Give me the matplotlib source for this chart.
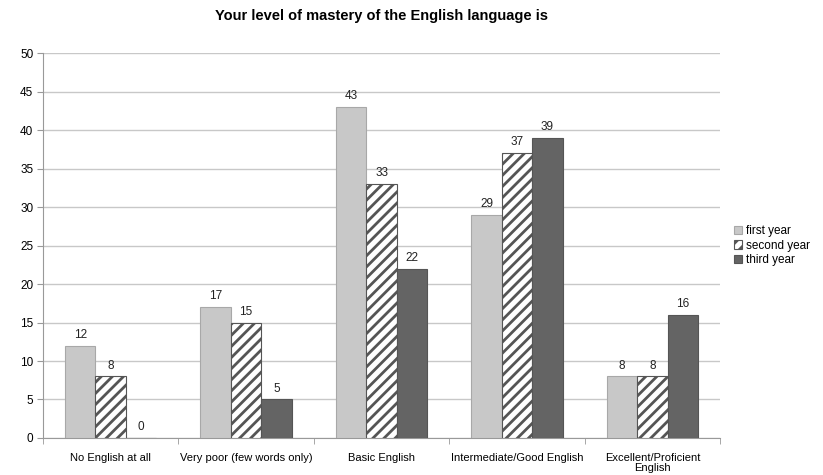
import matplotlib
matplotlib.use("Agg")
import matplotlib.pyplot as plt
import numpy as np

plt.rcParams['font.family'] = ['Liberation Sans', 'DejaVu Sans']
plt.rcParams['hatch.linewidth'] = 2.0
plt.rcParams['hatch.color'] = '#555555'

categories = ["No English at all", "Very poor (few words only)", "Basic English",
              "Intermediate/Good English", "Excellent/Proficient\nEnglish"]
first_year = [12, 17, 43, 29, 8]
second_year = [8, 15, 33, 37, 8]
third_year = [0, 5, 22, 39, 16]
series_names = ["first year", "second year", "third year"]
y_ticks = [0, 5, 10, 15, 20, 25, 30, 35, 40, 45, 50]

fig = plt.figure(figsize=(8.23, 4.75), dpi=100)
ax = fig.add_axes([0.0522, 0.0779, 0.8228, 0.8105])

x = np.arange(len(categories))
w = 0.225
styles = [
    dict(color='#c8c8c8', edgecolor='#a8a8a8', hatch=None),
    dict(color='white', edgecolor='#555555', hatch='///'),
    dict(color='#646464', edgecolor='#555555', hatch=None),
]
all_vals = [first_year, second_year, third_year]
for i, (vals, st, name) in enumerate(zip(all_vals, styles, series_names)):
    bars = ax.bar(x + (i - 1) * w, vals, w, label=name, facecolor=st['color'],
                  edgecolor=st['edgecolor'], hatch=st['hatch'], linewidth=0.8, zorder=3)
    for b, v in zip(bars, vals):
        ax.text(b.get_x() + b.get_width() / 2, v + 0.6, str(v), ha='center', va='bottom',
                fontsize=8.5, color='#222222')

ax.set_xlim(-0.5, len(categories) - 0.5)
ax.set_ylim(0, 50)
ax.set_yticks(y_ticks)
ax.tick_params(axis='y', labelsize=8.5, length=4, color='#999999', pad=3)
ax.yaxis.grid(True, color='#c8c8c8', linewidth=1, zorder=0)
ax.set_xticks(x)
ax.set_xticklabels(categories, fontsize=8, linespacing=1.0)
ax.tick_params(axis='x', length=0, pad=11)
ax.set_xticks(np.arange(-0.5, len(categories)), minor=True)
ax.tick_params(axis='x', which='minor', length=4, color='#999999')
for s in ['top', 'right']:
    ax.spines[s].set_visible(False)
for s in ['left', 'bottom']:
    ax.spines[s].set_color('#999999')

ax.set_title("Your level of mastery of the English language is", fontsize=10.5,
             fontweight='bold', pad=24)

ax.legend(loc='center left', bbox_to_anchor=(1.005, 0.5), frameon=False, fontsize=8.5,
          handlelength=0.7, handleheight=0.7, handletextpad=0.3, labelspacing=0.2)

fig.savefig("out.png", dpi=100)
